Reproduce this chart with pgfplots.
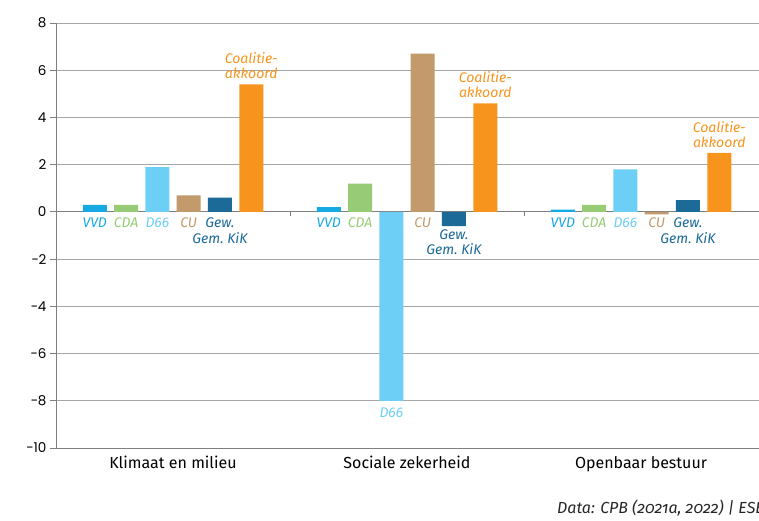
\documentclass[border=0pt]{standalone}
\usepackage{pgfplots}
\pgfplotsset{compat=1.18}
\usepackage{fontspec}
\setmainfont{Fira Sans}
\newfontfamily\tickfont{Poppins}
\newfontfamily\notefont{Fira Sans}[Numbers=OldStyle]

\definecolor{cVVD}{HTML}{17A9E1}
\definecolor{cCDA}{HTML}{98CB76}
\definecolor{cD66}{HTML}{6DCFF6}
\definecolor{cCU}{HTML}{C29A6B}
\definecolor{cGew}{HTML}{1B6A98}
\definecolor{cCoal}{HTML}{F7941D}
\definecolor{axisgray}{HTML}{7F7F7F}
\definecolor{gridgray}{HTML}{A6A6A6}

\newcommand\labfont{\fontsize{14}{16}\selectfont\itshape}
% \lab{group x}{xshift}{y}{yshift}{colour}{text}
\newcommand{\lab}[6]{\node[font=\labfont, text=#5, anchor=base, inner sep=0pt,
  xshift=#2pt, yshift=#4pt] at (axis cs:#1,#3) {#6};}
% small tick below a point
\newcommand{\tk}[3]{\draw[axisgray, line width=0.8pt] (axis cs:#1,#2) -- ([yshift=-#3pt]axis cs:#1,#2);}

\begin{document}
\begin{tikzpicture}
\useasboundingbox (0pt,0pt) rectangle (759pt,520pt);
\clip (0pt,0pt) rectangle (759pt,520pt);
\begin{axis}[
  at={(56pt,72pt)}, anchor=south west,
  scale only axis, width=703.2pt, height=425pt,
  ybar=7.3pt, bar width=24pt,
  xmin=0, xmax=3.005, ymin=-10, ymax=8,
  enlargelimits=false,
  axis x line=bottom, axis y line=left,
  axis line style={draw=axisgray, line width=0.8pt, -},
  xtick={0.5,1.5,2.5},
  xticklabels={Klimaat en milieu, Sociale zekerheid, Openbaar bestuur},
  x tick style={draw=none},
  xticklabel style={font=\fontsize{16}{18}\selectfont, anchor=base, yshift=-14pt},
  ytick={-10,-8,...,8},
  yticklabels={−10,−8,−6,−4,−2,0,2,4,6,8},
  yticklabel style={font=\tickfont\fontsize{13.5}{15}\selectfont},
  major tick length=6pt, tick align=outside,
  y tick style={draw=axisgray, line width=0.8pt},
  ymajorgrids, grid style={draw=gridgray, line width=0.8pt},
  every axis plot/.append style={draw=none},
]
\draw[axisgray, line width=0.8pt] (axis cs:0,0) -- (axis cs:3.005,0);
\tk{1}{0}{4}
\tk{2}{0}{4}
\tk{1}{-10}{6}
\tk{2}{-10}{6}
\tk{3}{-10}{6}

\addplot[fill=cVVD] coordinates {(0.5,0.3) (1.5,0.2) (2.5,0.1)};
\addplot[fill=cCDA] coordinates {(0.5,0.3) (1.5,1.2) (2.5,0.3)};
\addplot[fill=cD66] coordinates {(0.5,1.9) (1.5,-8.0) (2.5,1.8)};
\addplot[fill=cCU] coordinates {(0.5,0.7) (1.5,6.7) (2.5,-0.1)};
\addplot[fill=cGew] coordinates {(0.5,0.6) (1.5,-0.6) (2.5,0.5)};
\addplot[fill=cCoal] coordinates {(0.5,5.4) (1.5,4.6) (2.5,2.5)};

% group 1
\lab{0.5}{-78.25}{0}{-16}{cVVD}{VVD}
\lab{0.5}{-46.95}{0}{-16}{cCDA}{CDA}
\lab{0.5}{-15.65}{0}{-16}{cD66}{D66}
\lab{0.5}{15.65}{0}{-16}{cCU}{CU}
\lab{0.5}{46.95}{0}{-16}{cGew}{Gew.}
\lab{0.5}{46.95}{0}{-32}{cGew}{Gem.~KiK}
\lab{0.5}{78.25}{5.4}{5.5}{cCoal}{akkoord}
\lab{0.5}{78.25}{5.4}{20.5}{cCoal}{Coalitie-}
% group 2
\lab{1.5}{-78.25}{0}{-16}{cVVD}{VVD}
\lab{1.5}{-46.95}{0}{-16}{cCDA}{CDA}
\lab{1.5}{-15.65}{-8}{-17}{cD66}{D66}
\lab{1.5}{15.65}{0}{-16}{cCU}{CU}
\lab{1.5}{46.95}{0}{-27.5}{cGew}{Gew.}
\lab{1.5}{46.95}{0}{-43}{cGew}{Gem.~KiK}
\lab{1.5}{78.25}{4.6}{5.5}{cCoal}{akkoord}
\lab{1.5}{78.25}{4.6}{20.5}{cCoal}{Coalitie-}
% group 3
\lab{2.5}{-78.25}{0}{-16}{cVVD}{VVD}
\lab{2.5}{-46.95}{0}{-16}{cCDA}{CDA}
\lab{2.5}{-15.65}{0}{-16}{cD66}{D66}
\lab{2.5}{15.65}{0}{-16}{cCU}{CU}
\lab{2.5}{46.95}{0}{-16}{cGew}{Gew.}
\lab{2.5}{46.95}{0}{-32}{cGew}{Gem.~KiK}
\lab{2.5}{78.25}{2.5}{5.5}{cCoal}{akkoord}
\lab{2.5}{78.25}{2.5}{20.5}{cCoal}{Coalitie-}
\end{axis}
\node[anchor=base west, inner sep=0pt, font=\notefont\itshape\fontsize{16}{18}\selectfont, text=black!85]
  at (557pt,7pt) {Data: CPB (2021a, 2022) | ESB};
\end{tikzpicture}
\end{document}
